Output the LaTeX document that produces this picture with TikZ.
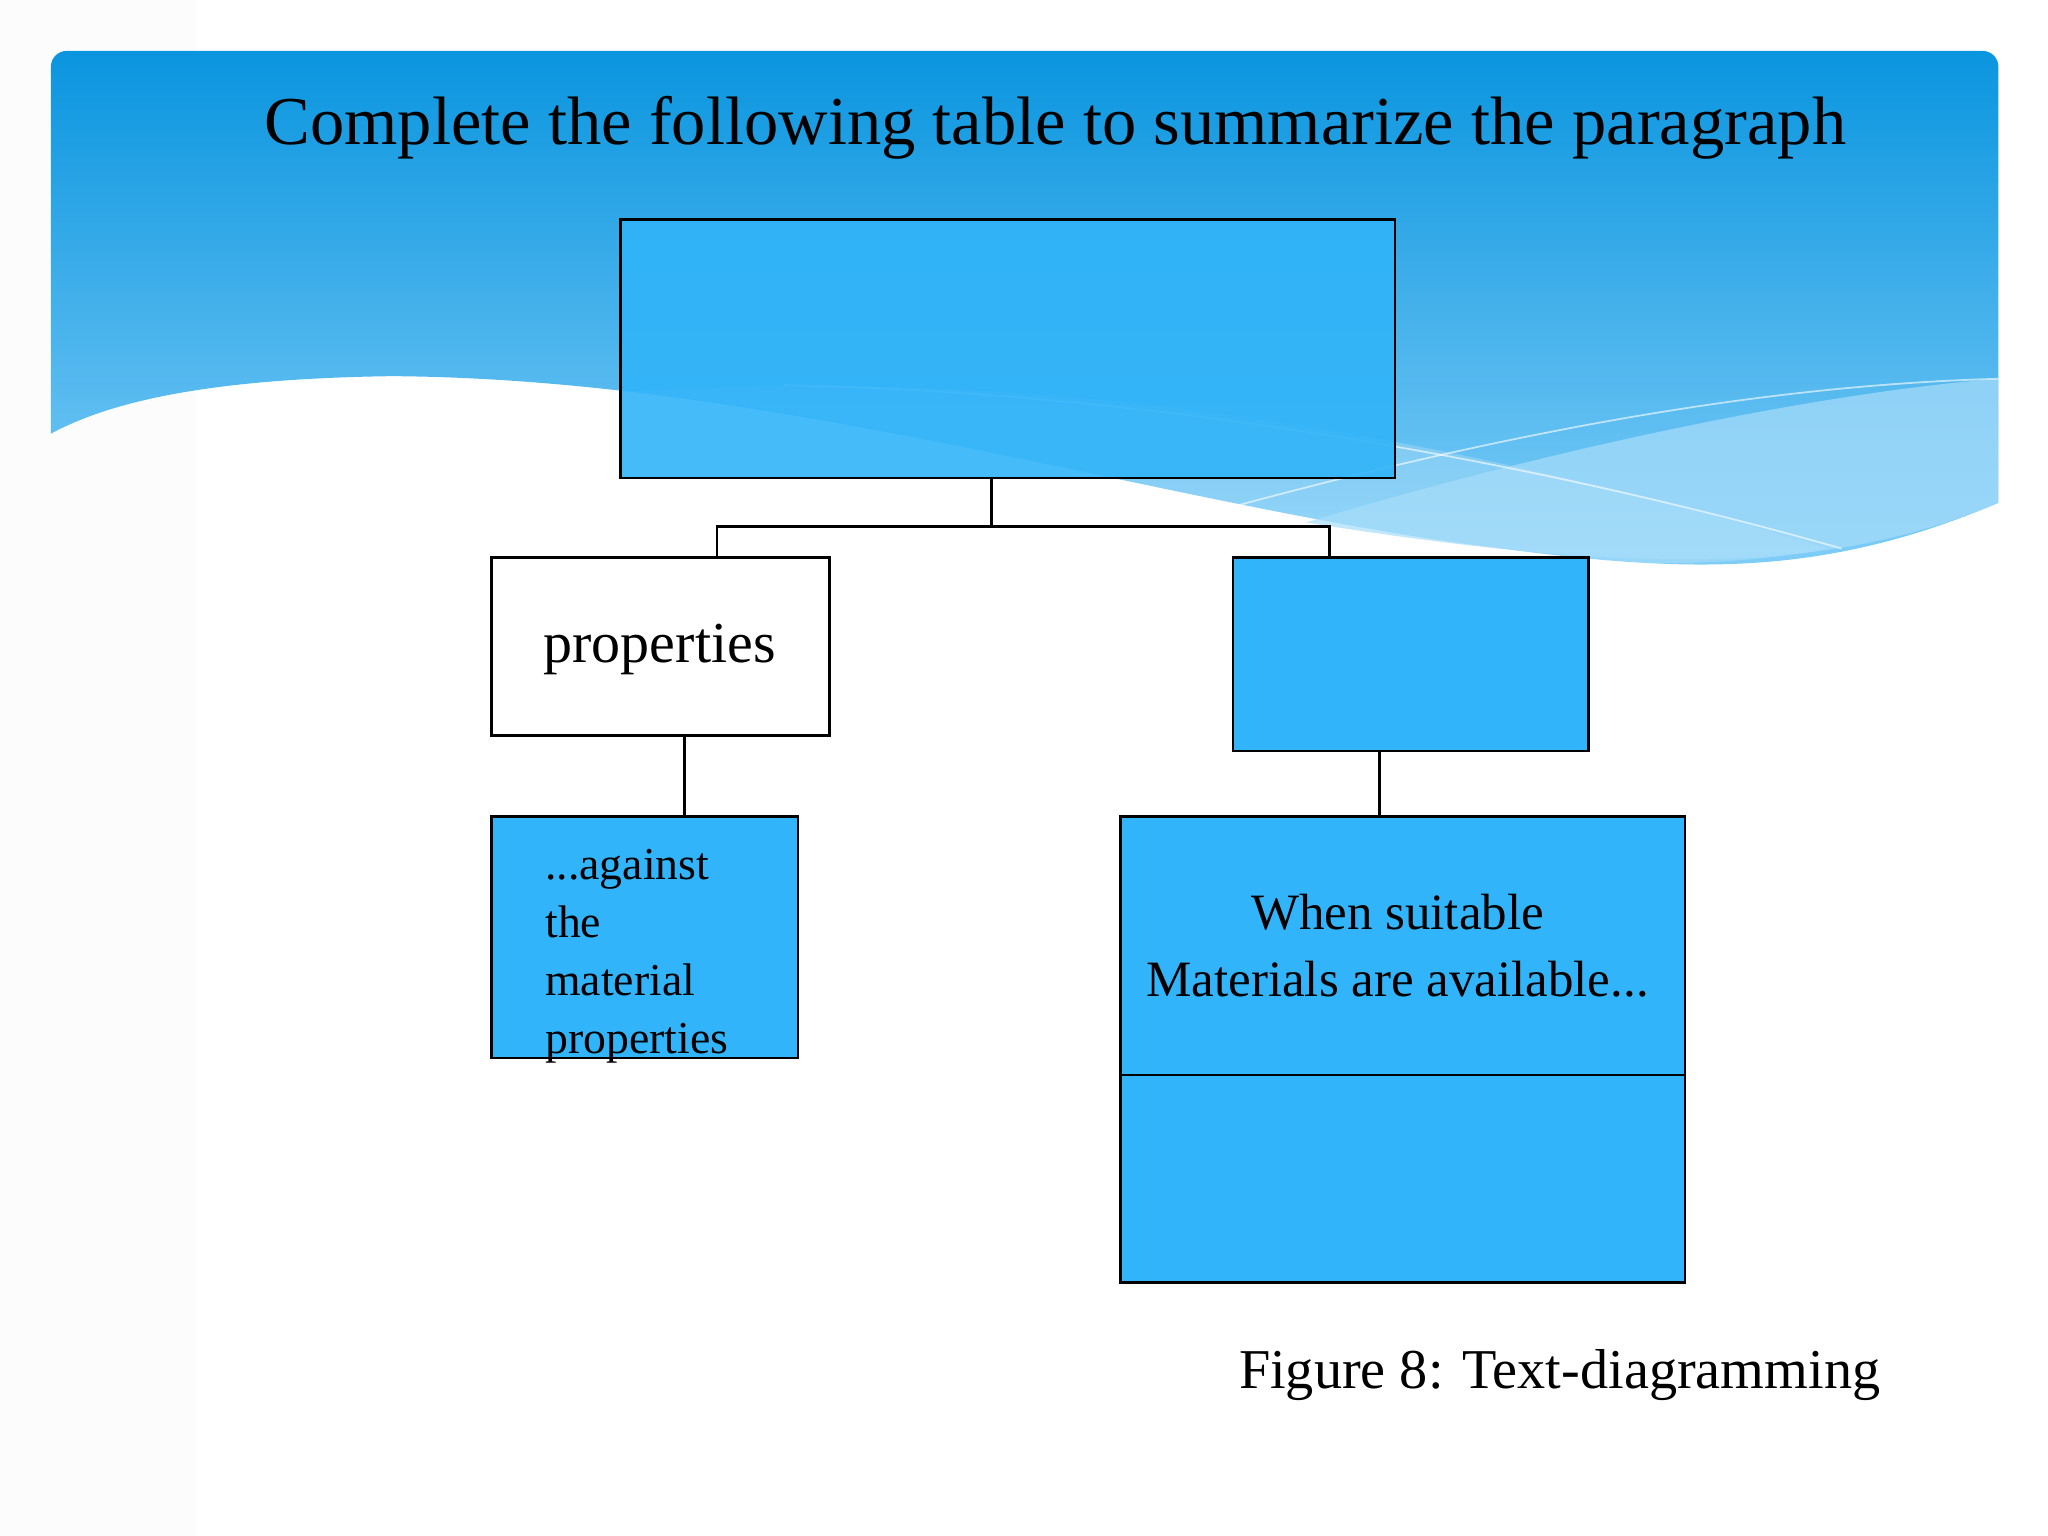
\documentclass[tikz,border=0pt]{standalone}
\usepackage{fontspec}
\setmainfont{Liberation Serif}
\newlength{\uu}\setlength{\uu}{0.013061cm}
\definecolor{bx}{HTML}{31B4F9}
\definecolor{htop}{HTML}{0A95DF}
\definecolor{hbot}{HTML}{80CEF8}
\definecolor{band}{HTML}{A8DDFA}
\tikzset{
 bbox/.style={draw=black, line width=0.8pt, fill=bx, inner sep=0pt},
 wbox/.style={draw=black, line width=0.8pt, fill=white, inner sep=0pt},
 conn/.style={draw=black, line width=0.8pt}
}
\newcommand{\bx}[6]{% name, style, x1,y1,x2,y2
 \node[#2, minimum width={(#5-#3)*\uu}, minimum height={(#6-#4)*\uu}] (#1) at ({(#3+#5)/2*\uu},{-(#4+#6)/2*\uu}) {};}
\begin{document}
\begin{tikzpicture}[x=\uu,y=-\uu]
\useasboundingbox (0,0) rectangle (1568,1176);
\fill[white!99!black] (0,0) rectangle (1568,1176);
\fill[white] (150,0) rectangle (1568,1176);
% header
\begin{scope}
\clip[rounded corners=12\uu] (39,39) -- (1530,39) -- (1530,600) -- (39,600) -- cycle;
\shade[top color=htop, bottom color=hbot, shading=axis]
  (39,39) -- (1530,39) -- (1530,385) .. controls (1400,440) and (1300,440) .. (1150,420)
  .. controls (900,390) and (600,290) .. (300,288) .. controls (150,290) and (80,310) .. (39,332) -- cycle;
\fill[white, opacity=0.2] (480,300) .. controls (800,280) and (1100,330) .. (1400,420)
  .. controls (1300,440) and (1150,430) .. (1100,420) .. controls (900,390) and (700,320) .. (480,300) -- cycle;
\fill[band, opacity=0.7] (1000,400) .. controls (1200,340) and (1400,300) .. (1530,290) -- (1530,385)
  .. controls (1400,440) and (1250,440) .. (1000,400) -- cycle;
\draw[white, opacity=0.6, line width=0.5pt] (900,400) .. controls (1150,330) and (1350,295) .. (1530,290);
\draw[white, opacity=0.6, line width=0.5pt] (600,295) .. controls (900,300) and (1200,360) .. (1410,420);
\end{scope}
\node[font=\fontsize{19.5}{22}\selectfont] (title) at (808,98) {Complete the following table to summarize the paragraph};
\bx{top}{bbox, fill opacity=0.9}{475}{168}{1068}{366}
\bx{prop}{wbox}{376}{427}{635}{563}
\bx{rt}{bbox}{944}{427}{1216}{575}
\bx{lb}{bbox}{376}{625}{611}{810}
\bx{rb}{bbox}{858}{625}{1290}{982}
\draw[conn] (858,823) -- (1290,823);
\node[font=\fontsize{16.5}{20}\selectfont] at (505,497) {properties};
\node[font=\fontsize{13}{16.5}\selectfont, align=left, anchor=north west, inner sep=0pt] at (417,650) {...against\\the\\material\\properties};
\node[font=\fontsize{14.5}{19}\selectfont, align=center] at (1070,724) {When suitable\\Materials are available...};
\node[font=\fontsize{16}{20}\selectfont, anchor=east, inner sep=0pt] (cap) at (1440,1053) {Figure 8: Text-diagramming};
\coordinate (j) at (759,403);
\draw[conn] (top.south -| j) -- (j);
\draw[conn] (j) -| (prop.north -| 549,0);
\draw[conn] (j) -| (rt.north -| 1018,0);
\draw[conn] (prop.south -| 524,0) -- (lb.north -| 524,0);
\draw[conn] (rt.south -| 1056,0) -- (rb.north -| 1056,0);
\end{tikzpicture}
\end{document}
